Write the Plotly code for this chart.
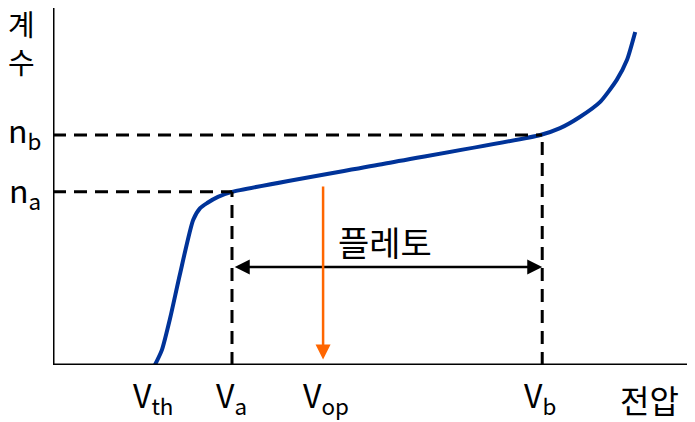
import plotly.graph_objects as go

# counting curve (voltage, counts) in arbitrary units
volt = [16.0, 17.1, 18.4, 19.9, 22.0, 23.1, 24.2, 25.9, 28.1, 52.0, 76.5,
        79.6, 82.7, 85.9, 88.5, 90.1, 91.4]
count = [0.0, 4.2, 13.1, 25.0, 40.3, 43.6, 45.0, 46.7, 48.1, 55.9, 63.9,
         65.8, 68.9, 73.1, 79.2, 84.7, 92.5]

v_th, v_a, v_op, v_b = 16.3, 28.1, 42.4, 76.8
n_a, n_b = 48.1, 63.9
plateau_y = 27.2
op_top = 50.0

x_labels = ["V<sub>th</sub>", "V<sub>a</sub>", "V<sub>op</sub>", "V<sub>b</sub>", "전압"]
x_label_pos = [15.7, 28.1, 42.9, 76.5, 93.7]
x_label_y = [-8.7, -8.7, -8.7, -8.7, -9.4]

X_MAX = 100.0
Y_MAX = 99.17

FONT = "Noto Sans CJK KR, Noto Sans, sans-serif"

fig = go.Figure()

fig.add_trace(go.Scatter(x=volt, y=count, mode="lines",
                         line=dict(color="#003399", width=4, shape="spline", smoothing=0.6),
                         hoverinfo="skip", showlegend=False))

dash = dict(color="black", width=3, dash="13px,8px")
# dashed guide lines
fig.add_shape(type="line", x0=0, x1=v_a, y0=n_a, y1=n_a, line=dash)
fig.add_shape(type="line", x0=0, x1=v_b, y0=n_b, y1=n_b, line=dash)
fig.add_shape(type="line", x0=v_a, x1=v_a, y0=0, y1=n_a, line=dash)
fig.add_shape(type="line", x0=v_b, x1=v_b, y0=0, y1=n_b, line=dash)

# axes
fig.add_shape(type="line", x0=0, x1=0, y0=0, y1=Y_MAX, line=dict(color="black", width=3))
fig.add_shape(type="line", x0=0, x1=X_MAX, y0=0, y1=0, line=dict(color="black", width=3))

# plateau double arrow
fig.add_annotation(x=v_b, y=plateau_y, ax=v_a + 0.2, ay=plateau_y, xref="x", yref="y",
                   axref="x", ayref="y", text="", showarrow=True, arrowside="end+start",
                   arrowhead=2, arrowsize=1.2, arrowwidth=2.5, arrowcolor="black")
# operating voltage arrow
fig.add_annotation(x=v_op, y=1.5, ax=v_op, ay=op_top, xref="x", yref="y",
                   axref="x", ayref="y", text="", showarrow=True,
                   arrowhead=2, arrowsize=1.2, arrowwidth=2.5, arrowcolor="#FF6600")


def label(text, x, y, size=32):
    # labels sit outside the axes, so place them in paper coords
    fig.add_annotation(x=x / X_MAX, y=y / Y_MAX, xref="paper", yref="paper", text=text,
                       showarrow=False, xanchor="center", yanchor="middle",
                       font=dict(family=FONT, size=size, color="black"))


label("플레토", 52.1, 34.3, 34)

for t, xp, yp in zip(x_labels, x_label_pos, x_label_y):
    label(t, xp, yp)

label("계<br>수", -4.9, 89.6, 29)
label("n<sub>b</sub>", -4.4, 65.0)
label("n<sub>a</sub>", -4.4, 48.4)

fig.update_xaxes(range=[0, X_MAX], visible=False)
fig.update_yaxes(range=[0, Y_MAX], visible=False)
# page body adds an 8px offset, so the figure is drawn 8px smaller
fig.update_layout(width=687, height=414,
                  margin=dict(l=45, r=5, t=0, b=57, autoexpand=False),
                  plot_bgcolor="white", paper_bgcolor="white")

fig.write_html("out.html")
